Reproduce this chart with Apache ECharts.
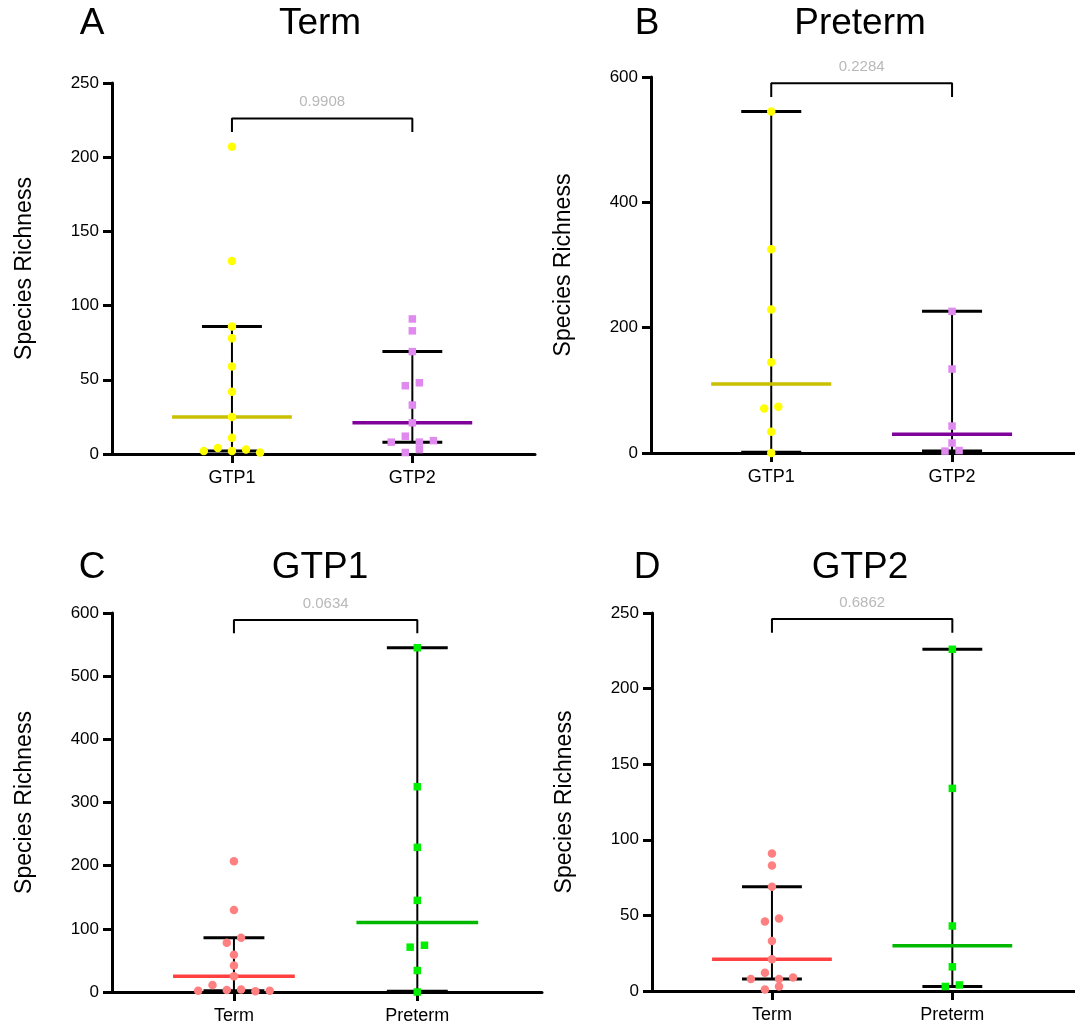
<!DOCTYPE html>
<html>
<head>
<meta charset="utf-8">
<script src="https://cdn.jsdelivr.net/npm/echarts@6/dist/echarts.min.js"></script>
<style>
  html, body { margin: 0; padding: 0; background: #fff; }
  #chart { width: 1075px; height: 1032px; }
</style>
</head>
<body>
<div id="chart"></div>
<script>
// 每组的物种丰富度
const termGTP1 = [207, 130, 86, 78, 59, 42, 25, 11, 4, 3, 2, 2, 1];
const termGTP2 = [91, 83, 69, 48, 46, 33, 21, 12, 9, 8, 8, 3, 1];
const pretermGTP1 = [545, 325, 229, 145, 74, 71, 34, 0];
const pretermGTP2 = [226, 134, 43, 16, 4, 3];

// median, lower, upper
const termGTP1Stats = [25, 2, 86];
const termGTP2Stats = [21, 8, 69];
const pretermGTP1Stats = [110, 1, 545];
const pretermGTP2Stats = [30, 3, 226];

// beeswarm slot of each point (same order as values)
const slotsTerm1A = [0, 0, 0, 0, 0, 0, 0, 0, -1, 1, -2, 0, 2];
const slotsTerm1C = [0, 0, 0.5, -0.5, 0, 0, 0, -1.5, 0.5, -0.5, -2.5, 2.5, 1.5];
const slotsTerm2 = [0, 0, 0, 0.5, -0.5, 0, 0, -0.5, 1.5, -1.5, 0.5, 0.5, -0.5];
const slotsPre1 = [0, 0, 0, 0, 0.5, -0.5, 0, 0];
const slotsPre2 = [0, 0, 0, 0, 0.5, -0.5];

const pValues = ["0.9908", "0.2284", "0.0634", "0.6862"];
const brackets = [[226, 217], [590, 568], [589, 568], [246, 237]];
const yMaxes = [250, 600, 600, 250];
const ySteps = [50, 200, 100, 50];

const FONT = "'Liberation Sans', Arial, sans-serif";
const swarmStep = 0.078;

const gtp1Term = { vals: termGTP1, stats: termGTP1Stats, dot: "#ffff00", line: "#c8c000", shape: "circle" };
const gtp2Term = { vals: termGTP2, stats: termGTP2Stats, dot: "#e08af0", line: "#80009a", shape: "rect" };
const gtp1Pre = { vals: pretermGTP1, stats: pretermGTP1Stats, dot: "#ffff00", line: "#c8c000", shape: "circle" };
const gtp2Pre = { vals: pretermGTP2, stats: pretermGTP2Stats, dot: "#e08af0", line: "#80009a", shape: "rect" };

const panels = [
  { letter: "A", title: "Term", cats: ["GTP1", "GTP2"],
    groups: [Object.assign({ slots: slotsTerm1A }, gtp1Term), Object.assign({ slots: slotsTerm2 }, gtp2Term)],
    grid: { left: 112, top: 83, width: 423, height: 371 }, cx: 320, ty: 24, lx: 92 },
  { letter: "B", title: "Preterm", cats: ["GTP1", "GTP2"],
    groups: [Object.assign({ slots: slotsPre1 }, gtp1Pre), Object.assign({ slots: slotsPre2 }, gtp2Pre)],
    grid: { left: 651, top: 77, width: 430, height: 376 }, cx: 860, ty: 24, lx: 647 },
  { letter: "C", title: "GTP1", cats: ["Term", "Preterm"],
    groups: [
      { vals: termGTP1, stats: termGTP1Stats, slots: slotsTerm1C, dot: "#ff8080", line: "#ff4040", shape: "circle" },
      { vals: pretermGTP1, stats: pretermGTP1Stats, slots: slotsPre1, dot: "#00ee00", line: "#00b800", shape: "rect" }],
    grid: { left: 112, top: 613, width: 430, height: 379 }, cx: 320, ty: 568, lx: 92 },
  { letter: "D", title: "GTP2", cats: ["Term", "Preterm"],
    groups: [
      { vals: termGTP2, stats: termGTP2Stats, slots: slotsTerm2, dot: "#ff8080", line: "#ff4040", shape: "circle" },
      { vals: pretermGTP2, stats: pretermGTP2Stats, slots: slotsPre2, dot: "#00ee00", line: "#00b800", shape: "rect" }],
    grid: { left: 652, top: 613, width: 430, height: 378 }, cx: 860, ty: 568, lx: 647 },
];

let myChart = echarts.init(document.getElementById("chart"));

let grids = [], xAxes = [], yAxes = [], series = [], graphics = [];

panels.forEach((p, i) => {
  grids.push(p.grid);

  xAxes.push({
    gridIndex: i, type: "value", min: 0.335, max: 2.68,
    axisLine: { onZero: false, lineStyle: { color: "#000", width: 3 } },
    axisTick: { show: true, customValues: [1, 2], length: 9, lineStyle: { color: "#000", width: 3 } },
    axisLabel: { customValues: [1, 2], formatter: (v) => p.cats[Math.round(v) - 1], color: "#000", fontSize: 18, fontFamily: FONT, margin: 15 },
    splitLine: { show: false },
  });

  yAxes.push({
    gridIndex: i, type: "value", min: 0, max: yMaxes[i], interval: ySteps[i],
    name: "Species Richness", nameLocation: "middle", nameGap: 76,
    nameTextStyle: { color: "#000", fontSize: 23, fontFamily: FONT },
    axisLine: { show: true, lineStyle: { color: "#000", width: 3 } },
    axisTick: { show: true, length: 9, lineStyle: { color: "#000", width: 3 } },
    axisLabel: { color: "#000", fontSize: 17, fontFamily: FONT, margin: 13 },
    splitLine: { show: false },
  });

  // 中位数 + 误差线
  series.push({
    type: "custom", xAxisIndex: i, yAxisIndex: i, z: 1, silent: true,
    data: p.groups.map((g, k) => [k + 1, g.stats[0], g.stats[1], g.stats[2]]),
    renderItem: (params, api) => {
      const g = p.groups[params.dataIndex];
      const x = api.value(0);
      const m = api.coord([x, api.value(1)]);
      const lo = api.coord([x, api.value(2)]);
      const hi = api.coord([x, api.value(3)]);
      const halfMed = api.size([0.332, 0])[0];
      const halfCap = api.size([0.166, 0])[0];
      return {
        type: "group",
        children: [
          { type: "line", shape: { x1: m[0], y1: lo[1], x2: m[0], y2: hi[1] }, style: { stroke: "#000", lineWidth: 2 } },
          { type: "line", shape: { x1: m[0] - halfCap, y1: hi[1], x2: m[0] + halfCap, y2: hi[1] }, style: { stroke: "#000", lineWidth: 3 } },
          { type: "line", shape: { x1: m[0] - halfCap, y1: lo[1], x2: m[0] + halfCap, y2: lo[1] }, style: { stroke: "#000", lineWidth: 3 } },
          { type: "line", shape: { x1: m[0] - halfMed, y1: m[1], x2: m[0] + halfMed, y2: m[1] }, style: { stroke: g.line, lineWidth: 3.5 } },
        ],
      };
    },
  });

  // 散点
  p.groups.forEach((g, k) => {
    series.push({
      type: "scatter", xAxisIndex: i, yAxisIndex: i, z: 3, silent: true,
      symbol: g.shape, symbolSize: g.shape === "rect" ? 7.5 : 8.5,
      itemStyle: { color: g.dot, opacity: 1 },
      data: g.vals.map((v, j) => [k + 1 + g.slots[j] * swarmStep, v]),
    });
  });

  // 显著性括号
  const b = brackets[i];
  series.push({
    type: "line", xAxisIndex: i, yAxisIndex: i, z: 2, silent: true,
    symbol: "none", lineStyle: { color: "#000", width: 2 },
    data: [[1, b[1]], [1, b[0]], [2, b[0]], [2, b[1]]],
  });
  series.push({
    type: "scatter", xAxisIndex: i, yAxisIndex: i, z: 2, silent: true,
    symbolSize: 0,
    label: { show: true, position: "top", distance: 9, formatter: pValues[i], color: "#a6a6a6", fontSize: 15, fontFamily: FONT },
    data: [[1.5, b[0]]],
  });

  graphics.push({ type: "text", x: p.lx, y: p.ty, style: { text: p.letter, font: "37px " + FONT, fill: "#000", textAlign: "center", textVerticalAlign: "middle" } });
  graphics.push({ type: "text", x: p.cx, y: p.ty, style: { text: p.title, font: "37px " + FONT, fill: "#000", textAlign: "center", textVerticalAlign: "middle" } });
});

myChart.setOption({
  animation: false,
  grid: grids,
  xAxis: xAxes,
  yAxis: yAxes,
  series: series,
  graphic: graphics,
});

window.addEventListener("resize", () => {
  myChart.resize();
});
</script>
</body>
</html>
